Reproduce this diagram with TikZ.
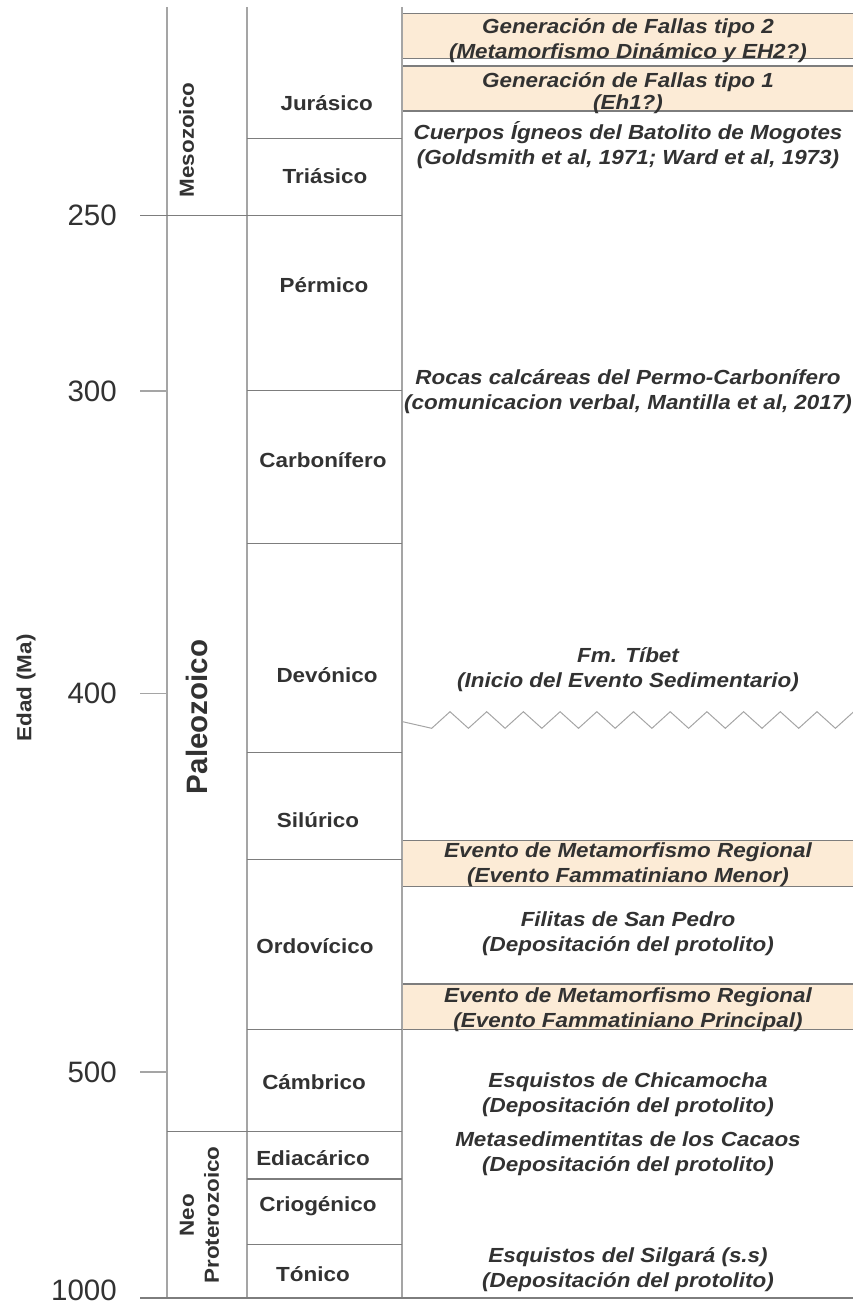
\documentclass[tikz,border=0pt]{standalone}
\usepackage{fontspec}
\setmainfont{Liberation Sans}
\newfontfamily\stf[FakeStretch=1.1]{Liberation Sans}
\definecolor{txt}{RGB}{50,50,50}
\definecolor{lin}{RGB}{165,165,165}
\definecolor{linD}{RGB}{125,125,125}
\definecolor{peach}{RGB}{252,235,214}
\tikzset{
  vline/.style={draw=lin, line width=1.3pt},
  hline/.style={draw=linD, line width=1.2pt},
  evbox/.style={fill=peach, draw=none},
  evedge/.style={draw=linD, line width=1.2pt},
  evt/.style={font=\stf\bfseries\itshape\fontsize{20.4}{25}\selectfont, text=txt, align=center, inner sep=0pt},
  per/.style={font=\stf\bfseries\fontsize{20.4}{25}\selectfont, text=txt, inner sep=0pt, align=center},
  tick/.style={font=\fontsize{29.5}{30}\selectfont, text=txt, inner sep=0pt, anchor=east},
  zig/.style={draw=lin, line width=1pt}
}
\begin{document}
\begin{tikzpicture}[x=1pt,y=-1pt]
\useasboundingbox (0,0) rectangle (853,1306);

% event boxes
\fill[evbox] (402,13.3) rectangle (853,58.3);
\fill[evbox] (402,66) rectangle (853,111);
\fill[evbox] (402,840.7) rectangle (853,886.7);
\fill[evbox] (402,984) rectangle (853,1029.5);
\foreach \ya/\yb in {13.3/58.3, 66/111, 840.7/886.7, 984/1029.5}{
  \draw[evedge] (402,\ya) -- (853,\ya);
  \draw[evedge] (402,\yb) -- (853,\yb);
}

% vertical column lines
\coordinate (c1t) at (167,7); \coordinate (c1b) at (167,1298);
\coordinate (c2t) at (247,7); \coordinate (c2b) at (247,1298);
\coordinate (c3t) at (402,7); \coordinate (c3b) at (402,1298);
\draw[vline] (c1t) -- (c1b);
\draw[vline] (c2t) -- (c2b);
\draw[vline] (c3t) -- (c3b);

% horizontal lines
\draw[hline] (140,215.5) -- (402,215.5);
\draw[hline] (140,1298) -- (853,1298);
\draw[hline] (167,1131.7) -- (402,1131.7);
\foreach \y in {138.3, 390.7, 543.3, 752.7, 859.3, 1029.5, 1179, 1244.3}{
  \draw[hline] (247,\y) -- (402,\y);
}
% ticks
\foreach \y in {391, 693.5, 1072}{
  \draw[vline] (140,\y) -- (167,\y);
}

% tick labels
\node[tick] (t250) at (117,215.5) {250};
\node[tick] (t300) at (117,391) {300};
\node[tick] (t400) at (117,693.5) {400};
\node[tick] (t500) at (117,1072) {500};
\node[tick] (t1000) at (117,1290) {1000};

% axis title
\node[per, rotate=90] (edad) at (26,688) {Edad (Ma)};

% eras
\node[per, rotate=90] (meso) at (186.7,140) {Mesozoico};
\node[font=\bfseries\fontsize{29.5}{30}\selectfont, text=txt, inner sep=0pt, rotate=90] (paleo) at (197,717) {Paleozoico};
\node[per, rotate=90] (neo) at (199.5,1215) {Neo\\Proterozoico};

% periods
\node[per] (jur) at (326.7,103) {Jurásico};
\node[per] (tri) at (325,175.7) {Triásico};
\node[per] (per) at (324,285) {Pérmico};
\node[per] (car) at (323,460) {Carbonífero};
\node[per] (dev) at (327,675) {Devónico};
\node[per] (sil) at (318,820) {Silúrico};
\node[per] (ord) at (315,946) {Ordovícico};
\node[per] (cam) at (314,1081.7) {Cámbrico};
\node[per] (edi) at (313,1158) {Ediacárico};
\node[per] (cri) at (318,1206) {Criogénico};
\node[per] (ton) at (313,1274) {Tónico};

% events
\node[evt] (e1) at (628,41) {Generación de Fallas tipo 2\\(Metamorfismo Dinámico y EH2?)};
\node[evt, font=\stf\bfseries\itshape\fontsize{20.4}{22}\selectfont] (e2) at (628,93) {Generación de Fallas tipo 1\\(Eh1?)};
\node[evt] (e3) at (628,145) {Cuerpos Ígneos del Batolito de Mogotes\\(Goldsmith et al, 1971; Ward et al, 1973)};
\node[evt] (e4) at (628,391.5) {Rocas calcáreas del Permo-Carbonífero\\(comunicacion verbal, Mantilla et al, 2017)};
\node[evt] (e5) at (628,669.5) {Fm. Tíbet\\(Inicio del Evento Sedimentario)};
\node[evt] (e6) at (628,865) {Evento de Metamorfismo Regional\\(Evento Fammatiniano Menor)};
\node[evt] (e7) at (628,934) {Filitas de San Pedro\\(Depositación del protolito)};
\node[evt] (e8) at (628,1009.5) {Evento de Metamorfismo Regional\\(Evento Fammatiniano Principal)};
\node[evt] (e9) at (628,1095) {Esquistos de Chicamocha\\(Depositación del protolito)};
\node[evt] (e10) at (628,1154) {Metasedimentitas de los Cacaos\\(Depositación del protolito)};
\node[evt] (e11) at (628,1270) {Esquistos del Silgará (s.s)\\(Depositación del protolito)};

% unconformity zigzag
\draw[zig] (402.7,721.7)
  \foreach \k in {0,...,11}{ -- ({431.7+36.7*\k},728.3) -- ({450+36.7*\k},711.7) };

\end{tikzpicture}
\end{document}
